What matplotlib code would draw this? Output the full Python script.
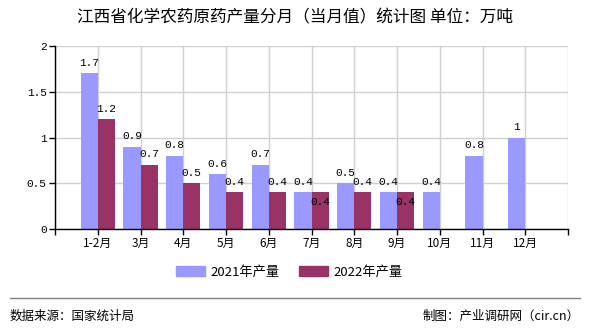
import matplotlib
matplotlib.use("Agg")
import matplotlib.pyplot as plt
from matplotlib.patches import Patch

plt.rcParams["font.family"] = ["Noto Sans CJK SC", "DejaVu Sans"]

MONTHS = ["1-2月", "3月", "4月", "5月", "6月", "7月", "8月", "9月", "10月", "11月", "12月"]
OUT_2021 = [1.7, 0.9, 0.8, 0.6, 0.7, 0.4, 0.5, 0.4, 0.4, 0.8, 1.0]
OUT_2022 = [1.2, 0.7, 0.5, 0.4, 0.4, 0.4, 0.4, 0.4]
LABELS_2021 = ["1.7", "0.9", "0.8", "0.6", "0.7", "0.4", "0.5", "0.4", "0.4", "0.8", "1"]
LABELS_2022 = ["1.2", "0.7", "0.5", "0.4", "0.4", "0.4", "0.4", "0.4"]

C21 = "#9999ff"
C22 = "#993366"
W = 0.4

# 2022 labels that get pushed inside the bar because they'd collide with 2021's
INSIDE_2022 = {5, 7}


def main():
    fig = plt.figure(figsize=(5.9, 3.3), dpi=100)
    ax = fig.add_axes([55 / 590, 1 - 229 / 330, (568 - 55) / 590, (229 - 46) / 330])

    x21 = [i + 1 - W for i in range(len(OUT_2021))]
    x22 = [i + 1 for i in range(len(OUT_2022))]
    ax.bar(x21, OUT_2021, width=W, align="edge", color=C21, zorder=3)
    ax.bar(x22, OUT_2022, width=W, align="edge", color=C22, zorder=3)

    lab_font = dict(family="Liberation Mono", fontsize=8, color="black", zorder=5)
    for x, v, s in zip(x21, OUT_2021, LABELS_2021):
        ax.annotate(s, (x + W / 2, v), textcoords="offset points", xytext=(0, 4),
                    ha="center", va="bottom", **lab_font)
    for i, (x, v, s) in enumerate(zip(x22, OUT_2022, LABELS_2022)):
        if i in INSIDE_2022:
            ax.annotate(s, (x + W / 2, v), textcoords="offset points", xytext=(0, -7),
                        ha="center", va="center", **lab_font)
        else:
            ax.annotate(s, (x + W / 2, v), textcoords="offset points", xytext=(0, 4),
                        ha="center", va="bottom", **lab_font)

    ax.set_xlim(0, 12)
    ax.set_ylim(0, 2)
    ax.set_xticks(range(0, 13))
    ax.set_xticklabels([""] + MONTHS + [""], fontsize=8.5)
    ax.set_yticks([0, 0.5, 1, 1.5, 2])
    ax.set_yticklabels(["0", "0.5", "1", "1.5", "2"], fontsize=8, family="Liberation Mono")
    ax.tick_params(axis="both", length=4, width=1, color="black", pad=2)
    ax.grid(True, color="#d0d0d0", linewidth=1, zorder=0)
    ax.spines["top"].set_visible(False)
    ax.spines["right"].set_visible(False)
    for s in ("left", "bottom"):
        ax.spines[s].set_color("black")
        ax.spines[s].set_linewidth(1)
        ax.spines[s].set_zorder(4)

    fig.text(0.5, 1 - 18 / 330, "江西省化学农药原药产量分月（当月值）统计图 单位：万吨",
             ha="center", va="center", fontsize=12, fontweight="medium")

    handles = [Patch(color=C21, label="2021年产量"), Patch(color=C22, label="2022年产量")]
    fig.legend(handles=handles, loc="center", bbox_to_anchor=(0.49, 1 - 272 / 330),
               ncol=2, frameon=False, fontsize=9.5, handlelength=2.2, handleheight=0.8,
               columnspacing=1.5, handletextpad=0.4)

    fig.add_artist(plt.Line2D([10 / 590, 580 / 590], [1 - 298 / 330] * 2,
                              color="#808080", linewidth=1))
    fig.text(10 / 590, 1 - 316 / 330, "数据来源：国家统计局", ha="left", va="center", fontsize=9)
    fig.text(580 / 590, 1 - 316 / 330, "制图：产业调研网（cir.cn）", ha="right", va="center", fontsize=9)

    fig.savefig("out.png", dpi=100)


if __name__ == "__main__":
    main()
